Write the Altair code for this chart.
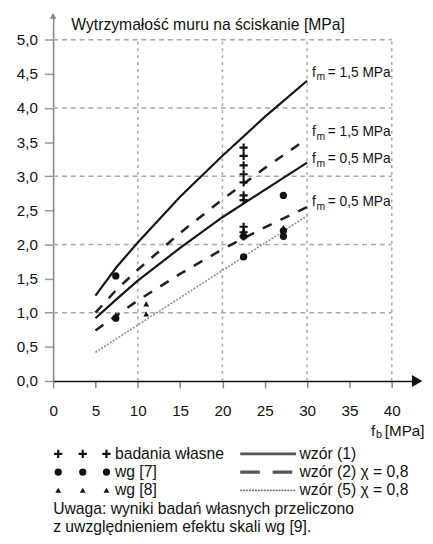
import altair as alt
import pandas as pd

FONT = "Liberation Sans"

# ---------------- data ----------------
fb = [5, 7.5, 10, 15, 20, 25, 30]
w1_fm15 = [1.25, 1.67, 2.03, 2.70, 3.30, 3.87, 4.40]   # wzór (1), fm = 1,5
w1_fm05 = [0.92, 1.20, 1.47, 1.95, 2.40, 2.80, 3.20]   # wzór (1), fm = 0,5
w2_fm15 = [1.00, 1.34, 1.63, 2.17, 2.66, 3.12, 3.55]   # wzór (2), fm = 1,5
w2_fm05 = [0.74, 0.96, 1.18, 1.57, 1.93, 2.25, 2.55]   # wzór (2), fm = 0,5
w5 = [0.42, 0.62, 0.82, 1.22, 1.62, 2.02, 2.42]        # wzór (5)

own_fb = [22.5] * 10
own_val = [3.42, 3.30, 3.16, 3.03, 2.91, 2.72, 2.65, 2.26, 2.18, 2.12]
wg7_fb = [7.4, 7.4, 22.5, 22.5, 27.2, 27.2, 27.2]
wg7_val = [1.54, 0.92, 1.82, 2.12, 2.72, 2.20, 2.12]
wg8_fb = [7.4, 11.0, 11.0, 22.5, 27.2]
wg8_val = [0.97, 1.13, 0.98, 2.20, 2.25]

lab_fb = [30, 30, 30, 30]
lab_y = [4.52, 3.65, 3.25, 2.62]
lab_rest = ["= 1,5 MPa", "= 1,5 MPa", "= 0,5 MPa", "= 0,5 MPa"]

x_ticks = [0, 5, 10, 15, 20, 25, 30, 35, 40]
y_ticks = [0, 0.5, 1, 1.5, 2, 2.5, 3, 3.5, 4, 4.5, 5]
grid_x = [10, 20, 30, 40]
grid_y = [1, 2, 3, 4, 5]

y_title = "Wytrzymałość muru na ściskanie [MPa]"

leg_left = ["badania własne", "wg [7]", "wg [8]"]
leg_right = ["wzór (1)", "wzór (2) χ = 0,8", "wzór (5) χ = 0,8"]
notes = ["Uwaga: wyniki badań własnych przeliczono",
         "z uwzględnieniem efektu skali wg [9]."]

# ---------------- scales / encodings ----------------
XMAX, YMAX = 43, 5.35
W, H = 371, 372

xs = alt.Scale(domain=[0, XMAX], nice=False, zero=False)
ys = alt.Scale(domain=[0, YMAX], nice=False, zero=False)

x_axis = alt.Axis(values=x_ticks, grid=False, labelFont=FONT, labelFontSize=15.5,
                  labelColor="#111", tickColor="#888", tickSize=7, tickWidth=1.5,
                  domainColor="#111", domainWidth=1.6, labelPadding=16, title=None,
                  labelFlush=False)
y_axis = alt.Axis(values=y_ticks, grid=False, labelFont=FONT, labelFontSize=15.5,
                  labelColor="#111", tickColor="#999", tickSize=9, tickWidth=1.5,
                  domainColor="#888", domainWidth=1.6, labelPadding=7,
                  labelExpr="replace(format(datum.value, '.1f'), '.', ',')",
                  title=y_title, titleFont=FONT, titleFontSize=16, titleFontWeight="normal",
                  titleColor="#111", titleAngle=0, titleAlign="left", titleBaseline="middle",
                  titleX=18, titleY=9)

X = alt.X("x:Q", scale=xs, axis=x_axis)
Y = alt.Y("y:Q", scale=ys, axis=y_axis)

# ---------------- grid ----------------
gh = pd.DataFrame({"y": grid_y, "x": [0] * len(grid_y), "x2": [40] * len(grid_y)})
gv = pd.DataFrame({"x": grid_x, "y": [0] * len(grid_x), "y2": [5] * len(grid_x)})
grid_h = alt.Chart(gh).mark_rule(color="#a8a8a8", strokeWidth=1.6, strokeDash=[5, 4]).encode(
    x=X, x2="x2:Q", y=Y)
grid_v = alt.Chart(gv).mark_rule(color="#ababab", strokeWidth=1.6, strokeDash=[3, 4]).encode(
    x=X, y=Y, y2="y2:Q")

# ---------------- lines ----------------
def long(series):
    rows = []
    for name, vals in series.items():
        for f, v in zip(fb, vals):
            rows.append({"x": f, "y": v, "s": name})
    return pd.DataFrame(rows)

solid = alt.Chart(long({"a": w1_fm15, "b": w1_fm05})).mark_line(
    color="#151515", strokeWidth=2.2).encode(x=X, y=Y, detail="s:N")
dashed = alt.Chart(long({"a": w2_fm15, "b": w2_fm05})).mark_line(
    color="#222", strokeWidth=2.6, strokeDash=[10, 10]).encode(x=X, y=Y, detail="s:N")
dotted = alt.Chart(long({"a": w5})).mark_line(
    color="#8a8a8a", strokeWidth=1.6, strokeDash=[2, 1.5]).encode(x=X, y=Y, detail="s:N")

# ---------------- points ----------------
PLUS = "M-1,0L1,0M0,-1L0,1"
own = alt.Chart(pd.DataFrame({"x": own_fb, "y": own_val})).mark_point(
    shape=PLUS, filled=False, color="#111", strokeWidth=2.2, size=70, opacity=1).encode(x=X, y=Y)
wg7 = alt.Chart(pd.DataFrame({"x": wg7_fb, "y": wg7_val})).mark_point(
    shape="circle", filled=True, color="#111", opacity=1, size=55).encode(x=X, y=Y)
wg8 = alt.Chart(pd.DataFrame({"x": wg8_fb, "y": wg8_val})).mark_point(
    shape="triangle-up", filled=True, color="#111", opacity=1, size=35).encode(x=X, y=Y)

# ---------------- line labels with subscripts ----------------
lab_df = pd.DataFrame({"x": lab_fb, "y": lab_y, "rest": lab_rest})
base_t = alt.Chart(lab_df).mark_text(text="f", font=FONT, fontSize=14, align="left",
                                     baseline="middle", dx=5, color="#111").encode(x=X, y=Y)
sub_t = alt.Chart(lab_df).mark_text(text="m", font=FONT, fontSize=10.5, align="left",
                                    baseline="middle", dx=9.5, dy=5, color="#111").encode(x=X, y=Y)
rest_t = alt.Chart(lab_df).mark_text(font=FONT, fontSize=14, align="left",
                                     baseline="middle", dx=21, color="#111").encode(
    x=X, y=Y, text="rest:N")

# ---------------- axis arrows and x title ----------------
arrow_r = alt.Chart(pd.DataFrame({"x": [XMAX], "y": [0]})).mark_point(
    shape="triangle-right", filled=True, color="#111", opacity=1, size=150).encode(x=X, y=Y)
arrow_u = alt.Chart(pd.DataFrame({"x": [0], "y": [YMAX]})).mark_point(
    shape="triangle-up", filled=True, color="#888", opacity=1, size=45).encode(x=X, y=Y)

xt = pd.DataFrame({"x": [XMAX], "y": [0]})
xt_f = alt.Chart(xt).mark_text(text="f", font=FONT, fontSize=15.5, align="left",
                               baseline="middle", dx=-47, dy=51, color="#111").encode(x=X, y=Y)
xt_b = alt.Chart(xt).mark_text(text="b", font=FONT, fontSize=11, align="left",
                               baseline="middle", dx=-42, dy=55, color="#111").encode(x=X, y=Y)
xt_r = alt.Chart(xt).mark_text(text="[MPa]", font=FONT, fontSize=15.5, align="left",
                               baseline="middle", dx=-33, dy=51, color="#111").encode(x=X, y=Y)

main = alt.layer(grid_h, grid_v, dotted, dashed, solid, own, wg7, wg8,
                 base_t, sub_t, rest_t, arrow_r, arrow_u, xt_f, xt_b, xt_r).properties(
    width=W, height=H)

# ---------------- legend panel ----------------
LX = alt.Scale(domain=[0, XMAX], nice=False, zero=False)
LY = alt.Scale(domain=[-0.5, 4.5], nice=False, zero=False, reverse=True)
lx = lambda f: alt.X(f, scale=LX, axis=None)
ly = lambda f: alt.Y(f, scale=LY, axis=None)

sym_x = [0.6, 3.5, 6.3]
sym_rows = []
for r, kind in enumerate(["plus", "circle", "tri"]):
    for sx in sym_x:
        sym_rows.append({"lx": sx, "row": r, "kind": kind})
sym_df = pd.DataFrame(sym_rows)

leg_plus = alt.Chart(sym_df[sym_df["kind"] == "plus"]).mark_point(
    shape=PLUS, filled=False, color="#111", strokeWidth=2.2, size=70, opacity=1).encode(
    x=lx("lx:Q"), y=ly("row:Q"))
leg_circ = alt.Chart(sym_df[sym_df["kind"] == "circle"]).mark_point(
    shape="circle", filled=True, color="#111", opacity=1, size=55).encode(
    x=lx("lx:Q"), y=ly("row:Q"))
leg_tri = alt.Chart(sym_df[sym_df["kind"] == "tri"]).mark_point(
    shape="triangle-up", filled=True, color="#111", opacity=1, size=35).encode(
    x=lx("lx:Q"), y=ly("row:Q"))

left_txt = alt.Chart(pd.DataFrame({"lx": [7.3] * 3, "row": [0, 1, 2], "t": leg_left})).mark_text(
    font=FONT, fontSize=16, align="left", baseline="middle", color="#111").encode(
    x=lx("lx:Q"), y=ly("row:Q"), text="t:N")

def leg_line(row, **kw):
    d = pd.DataFrame({"lx": [22.1, 28.7], "row": [row, row]})
    return alt.Chart(d).mark_line(**kw).encode(x=lx("lx:Q"), y=ly("row:Q"))

ll1 = leg_line(0, color="#555", strokeWidth=3)
ll2 = leg_line(1, color="#555", strokeWidth=3.5, strokeDash=[20, 13])
ll3 = leg_line(2, color="#777", strokeWidth=1.6, strokeDash=[2, 1])

right_txt = alt.Chart(pd.DataFrame({"lx": [29.1] * 3, "row": [0, 1, 2], "t": leg_right})).mark_text(
    font=FONT, fontSize=16, align="left", baseline="middle", color="#111").encode(
    x=lx("lx:Q"), y=ly("row:Q"), text="t:N")

note_txt = alt.Chart(pd.DataFrame({"lx": [0, 0], "row": [3, 4], "t": notes})).mark_text(
    font=FONT, fontSize=16, align="left", baseline="middle", color="#111").encode(
    x=lx("lx:Q"), y=ly("row:Q"), text="t:N")

legend = alt.layer(leg_plus, leg_circ, leg_tri, left_txt, ll1, ll2, ll3, right_txt,
                   note_txt).properties(width=W, height=93)

chart = alt.vconcat(main, legend, spacing=5).properties(
    padding={"left": 8, "top": 0, "right": 0, "bottom": 0},
    background="white"
).configure_view(stroke=None)

chart.save("out.html", embed_options={"renderer": "svg", "actions": False})
